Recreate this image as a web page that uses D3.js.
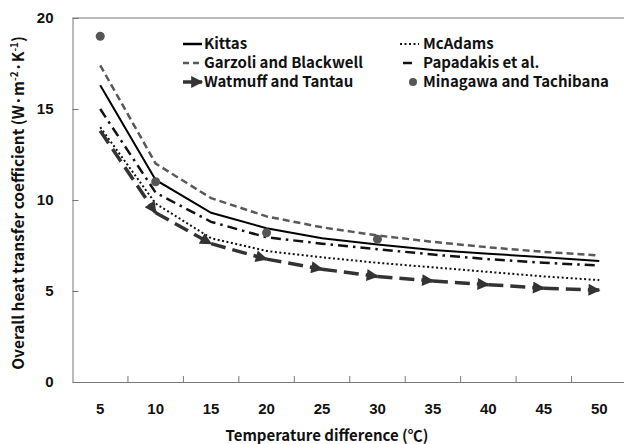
<!DOCTYPE html>
<html>
<head>
<meta charset="utf-8">
<script src="https://cdn.jsdelivr.net/npm/d3@7"></script>
<style>
  body { margin: 0; background: #fff; }
  svg { display: block; font-family: "Noto Sans CJK KR", "Noto Sans", sans-serif; }
</style>
</head>
<body>
<div id="chart"></div>
<script>
const tempDiff = [5, 10, 15, 20, 25, 30, 35, 40, 45, 50];
const kittas = [16.3, 11.1, 9.3, 8.45, 7.9, 7.55, 7.25, 7.05, 6.85, 6.65];
const garzoli = [17.4, 12.0, 10.1, 9.1, 8.5, 8.05, 7.7, 7.4, 7.15, 6.95];
const papadakis = [15.0, 10.4, 8.8, 7.95, 7.6, 7.3, 7.0, 6.75, 6.55, 6.4];
const mcadams = [14.0, 9.8, 7.9, 7.2, 6.85, 6.55, 6.3, 6.05, 5.8, 5.6];
const watmuff = [13.8, 9.3, 7.6, 6.75, 6.2, 5.8, 5.55, 5.35, 5.15, 5.05];
const minagawaX = [5, 10, 20, 30];
const minagawa = [19.0, 11.0, 8.2, 7.85];
const yTicks = [0, 5, 10, 15, 20];

const width = 624, height = 444;
const plot = { left: 72.5, right: 627, top: 18, bottom: 382 };

const svg = d3.select("#chart").append("svg")
  .attr("width", width)
  .attr("height", height);

const x = d3.scaleBand()
  .domain(tempDiff)
  .range([plot.left, plot.right])
  .paddingInner(0).paddingOuter(0);
const xc = d => x(d) + x.bandwidth() / 2;

const y = d3.scaleLinear()
  .domain([0, 20])
  .range([plot.bottom, plot.top]);

// arrow marker for Watmuff and Tantau
svg.append("defs").append("marker")
  .attr("id", "arrow")
  .attr("viewBox", "0 0 10 10")
  .attr("refX", 9).attr("refY", 5)
  .attr("markerUnits", "userSpaceOnUse")
  .attr("markerWidth", 14).attr("markerHeight", 12)
  .attr("orient", "auto")
  .append("path")
  .attr("d", "M0,0 L10,5 L0,10 Z")
  .attr("fill", "#333");

// frame: left + bottom + top
svg.append("line")
  .attr("x1", plot.left).attr("x2", width)
  .attr("y1", plot.top).attr("y2", plot.top)
  .attr("stroke", "#777");

const yAxis = svg.append("g")
  .attr("transform", `translate(${plot.left},0)`)
  .call(d3.axisLeft(y).tickValues(yTicks).tickSizeInner(-6).tickSizeOuter(0).tickPadding(19));
yAxis.select(".domain").attr("stroke", "#777");
yAxis.selectAll(".tick line").attr("stroke", "#777");
yAxis.selectAll("text").attr("font-size", 15).attr("font-weight", 700).attr("fill", "#111");

const xAxis = svg.append("g")
  .attr("transform", `translate(0,${plot.bottom})`)
  .call(d3.axisBottom(x).tickSize(0).tickPadding(21));
xAxis.select(".domain").attr("stroke", "#777");
xAxis.selectAll("text").attr("font-size", 15).attr("font-weight", 700).attr("fill", "#111");

// category boundary ticks (inside)
svg.append("g").selectAll("line")
  .data(tempDiff.slice(1))
  .join("line")
  .attr("x1", d => x(d)).attr("x2", d => x(d))
  .attr("y1", plot.bottom).attr("y2", plot.bottom - 6)
  .attr("stroke", "#777");

// axis titles
svg.append("text")
  .attr("x", 327).attr("y", 441)
  .attr("text-anchor", "middle")
  .attr("font-size", 15).attr("font-weight", 700).attr("fill", "#111")
  .text("Temperature difference (℃)");

const yt = svg.append("text")
  .attr("transform", "translate(24,203) rotate(-90)")
  .attr("text-anchor", "middle")
  .attr("font-size", 15.5).attr("font-weight", 700).attr("fill", "#111");
yt.append("tspan").text("Overall heat transfer coefficient (W·m");
yt.append("tspan").attr("dy", -6).attr("font-size", 10).text("-2");
yt.append("tspan").attr("dy", 6).text("·K");
yt.append("tspan").attr("dy", -6).attr("font-size", 10).text("-1");
yt.append("tspan").attr("dy", 6).text(")");

const line = d3.line().x(d => xc(d[0])).y(d => y(d[1]));

const series = [
  { vals: garzoli, stroke: "#595959", width: 2.5, dash: "7,4" },
  { vals: kittas, stroke: "#000", width: 2, dash: null },
  { vals: papadakis, stroke: "#111", width: 2.5, dash: "10,5,2.5,5" },
  { vals: mcadams, stroke: "#111", width: 2, dash: "2,2.5" }
];

series.forEach(s => {
  svg.append("path")
    .datum(tempDiff.map((t, i) => [t, s.vals[i]]))
    .attr("d", line)
    .attr("fill", "none")
    .attr("stroke", s.stroke)
    .attr("stroke-width", s.width)
    .attr("stroke-dasharray", s.dash);
});

// Watmuff and Tantau: each segment ends in an arrow
svg.append("g").selectAll("line")
  .data(d3.pairs(tempDiff.map((t, i) => [t, watmuff[i]])))
  .join("line")
  .attr("x1", d => xc(d[0][0])).attr("y1", d => y(d[0][1]))
  .attr("x2", d => xc(d[1][0])).attr("y2", d => y(d[1][1]))
  .attr("stroke", "#333")
  .attr("stroke-width", 3.5)
  .attr("stroke-dasharray", "15,7")
  .attr("marker-end", "url(#arrow)");

// Minagawa and Tachibana points
svg.append("g").selectAll("circle")
  .data(minagawaX.map((t, i) => [t, minagawa[i]]))
  .join("circle")
  .attr("cx", d => xc(d[0])).attr("cy", d => y(d[1]))
  .attr("r", 4.5)
  .attr("fill", "#555");

// legend
const legend = svg.append("g").attr("font-size", 15).attr("font-weight", 700).attr("fill", "#111");
const rows = [44, 63, 82];
const col1 = 183, col2 = 400;

function legText(xp, yp, t) {
  legend.append("text").attr("x", xp).attr("y", yp).attr("dy", "0.35em").text(t);
}

legend.append("line").attr("x1", col1).attr("x2", col1 + 19).attr("y1", rows[0]).attr("y2", rows[0])
  .attr("stroke", "#000").attr("stroke-width", 2.5);
legText(col1 + 21, rows[0], "Kittas");

legend.append("line").attr("x1", col1).attr("x2", col1 + 19).attr("y1", rows[1]).attr("y2", rows[1])
  .attr("stroke", "#595959").attr("stroke-width", 2.5).attr("stroke-dasharray", "6,4");
legText(col1 + 21, rows[1], "Garzoli and Blackwell");

legend.append("line").attr("x1", col1).attr("x2", col1 + 19).attr("y1", rows[2]).attr("y2", rows[2])
  .attr("stroke", "#333").attr("stroke-width", 3.5).attr("marker-end", "url(#arrow)");
legText(col1 + 21, rows[2], "Watmuff and Tantau");

legend.append("line").attr("x1", col2).attr("x2", col2 + 19).attr("y1", rows[0]).attr("y2", rows[0])
  .attr("stroke", "#111").attr("stroke-width", 2).attr("stroke-dasharray", "2,2.5");
legText(col2 + 23, rows[0], "McAdams");

legend.append("line").attr("x1", col2 + 3).attr("x2", col2 + 12).attr("y1", rows[1]).attr("y2", rows[1])
  .attr("stroke", "#111").attr("stroke-width", 2.5);
legText(col2 + 23, rows[1], "Papadakis et al.");

legend.append("circle").attr("cx", col2 + 13).attr("cy", rows[2]).attr("r", 4).attr("fill", "#555");
legText(col2 + 23, rows[2], "Minagawa and Tachibana");
</script>
</body>
</html>
